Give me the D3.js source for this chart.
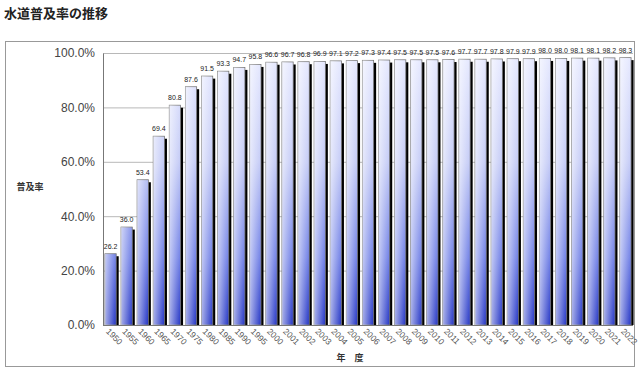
<!DOCTYPE html>
<html>
<head>
<meta charset="utf-8">
<script src="https://cdn.jsdelivr.net/npm/d3@7"></script>
<style>
  body { margin: 0; background: #fff; }
  text { font-family: "Liberation Sans", Arial, sans-serif; }
  .jp { font-family: "Noto Sans CJK JP", sans-serif; }
</style>
</head>
<body>
<div id="chart"></div>
<script>
// data
const years = ["1950", "1955", "1960", "1965", "1970", "1975", "1980", "1985", "1990", "1995",
  "2000", "2001", "2002", "2003", "2004", "2005", "2006", "2007", "2008", "2009", "2010",
  "2011", "2012", "2013", "2014", "2015", "2016", "2017", "2018", "2019", "2020", "2021", "2022"];
const rates = [26.2, 36.0, 53.4, 69.4, 80.8, 87.6, 91.5, 93.3, 94.7, 95.8,
  96.6, 96.7, 96.8, 96.9, 97.1, 97.2, 97.3, 97.4, 97.5, 97.5, 97.5,
  97.6, 97.7, 97.7, 97.8, 97.9, 97.9, 98.0, 98.0, 98.1, 98.1, 98.2, 98.3];
const yTicks = [0, 20, 40, 60, 80, 100];

const W = 640, H = 371;
const plot = { left: 103, right: 633, top: 53, bottom: 325 };

const svg = d3.select("#chart").append("svg")
    .attr("width", W)
    .attr("height", H);

const defs = svg.append("defs");
const vg = defs.append("linearGradient")
    .attr("id", "barV")
    .attr("gradientUnits", "userSpaceOnUse")
    .attr("x1", 0).attr("x2", 0)
    .attr("y1", plot.top).attr("y2", plot.bottom);
vg.append("stop").attr("offset", "0%").attr("stop-color", "#e6e9ff");
vg.append("stop").attr("offset", "40%").attr("stop-color", "#c3caf6");
vg.append("stop").attr("offset", "75%").attr("stop-color", "#6f7fe6");
vg.append("stop").attr("offset", "100%").attr("stop-color", "#2334c4");

const hg = defs.append("linearGradient")
    .attr("id", "barH")
    .attr("x1", 0).attr("x2", 1).attr("y1", 0).attr("y2", 0);
hg.append("stop").attr("offset", "0%").attr("stop-color", "#ffffff").attr("stop-opacity", 0.6);
hg.append("stop").attr("offset", "100%").attr("stop-color", "#ffffff").attr("stop-opacity", 0);

// title
svg.append("text")
    .attr("class", "jp")
    .attr("x", 4)
    .attr("y", 18)
    .style("font-size", "13px")
    .style("font-weight", "bold")
    .attr("fill", "#222")
    .text("水道普及率の推移");

// outer frame
svg.append("rect")
    .attr("x", 5.5).attr("y", 41.5)
    .attr("width", 629).attr("height", 325)
    .attr("fill", "none")
    .attr("stroke", "#999");

const x = d3.scaleBand()
    .domain(years)
    .range([plot.left, plot.right])
    .paddingInner(0.3)
    .paddingOuter(0.12);

const y = d3.scaleLinear()
    .domain([0, 100])
    .range([plot.bottom, plot.top]);

// gridlines
svg.append("g")
    .selectAll("line")
    .data(yTicks)
    .enter().append("line")
    .attr("x1", plot.left)
    .attr("x2", plot.right)
    .attr("y1", d => y(d) + 0.5)
    .attr("y2", d => y(d) + 0.5)
    .attr("stroke", "#b8b8b8");

// y axis
const yAxis = svg.append("g")
    .attr("transform", `translate(${plot.left},0)`)
    .call(d3.axisLeft(y).tickValues(yTicks).tickSize(0).tickPadding(8)
        .tickFormat(d => d.toFixed(1) + "%"));
yAxis.select(".domain").attr("stroke", "#777");
yAxis.selectAll("text")
    .style("font-size", "12px")
    .attr("fill", "#444");

// bars: shadow, body, highlight
const bars = svg.append("g")
    .selectAll("g")
    .data(years.map((yr, i) => ({ year: yr, rate: rates[i] })))
    .enter().append("g");

bars.append("rect")
    .attr("x", d => x(d.year) + 2.5)
    .attr("y", d => y(d.rate) + 2.5)
    .attr("width", x.bandwidth())
    .attr("height", d => plot.bottom - y(d.rate) - 2.5)
    .attr("fill", "#000");

bars.append("rect")
    .attr("x", d => x(d.year))
    .attr("y", d => y(d.rate))
    .attr("width", x.bandwidth())
    .attr("height", d => plot.bottom - y(d.rate))
    .attr("fill", "url(#barV)")
    .attr("stroke", "#777")
    .attr("stroke-width", 0.8);

bars.append("rect")
    .attr("x", d => x(d.year))
    .attr("y", d => y(d.rate))
    .attr("width", x.bandwidth())
    .attr("height", d => plot.bottom - y(d.rate))
    .attr("fill", "url(#barH)");

// value labels
bars.append("text")
    .attr("x", d => x(d.year) + x.bandwidth() / 2)
    .attr("y", d => y(d.rate) - 5)
    .attr("text-anchor", "middle")
    .style("font-size", "7px")
    .attr("fill", "#222")
    .text(d => d.rate.toFixed(1));

// x axis baseline
svg.append("line")
    .attr("x1", plot.left).attr("x2", plot.right)
    .attr("y1", plot.bottom + 0.5).attr("y2", plot.bottom + 0.5)
    .attr("stroke", "#777");

// x labels, rotated
svg.append("g")
    .selectAll("text")
    .data(years)
    .enter().append("text")
    .attr("transform", d => `translate(${x(d) + x.bandwidth() / 2 - 5},${plot.bottom + 7}) rotate(45)`)
    .style("font-size", "8.5px")
    .attr("fill", "#555")
    .text(d => d);

// axis titles
svg.append("text")
    .attr("class", "jp")
    .attr("x", 30)
    .attr("y", 190)
    .attr("text-anchor", "middle")
    .style("font-size", "9px")
    .style("font-weight", "bold")
    .attr("fill", "#333")
    .text("普及率");

svg.append("text")
    .attr("class", "jp")
    .attr("x", 350)
    .attr("y", 361)
    .attr("text-anchor", "middle")
    .style("font-size", "9px")
    .style("font-weight", "bold")
    .attr("fill", "#333")
    .text("年　度");
</script>
</body>
</html>
